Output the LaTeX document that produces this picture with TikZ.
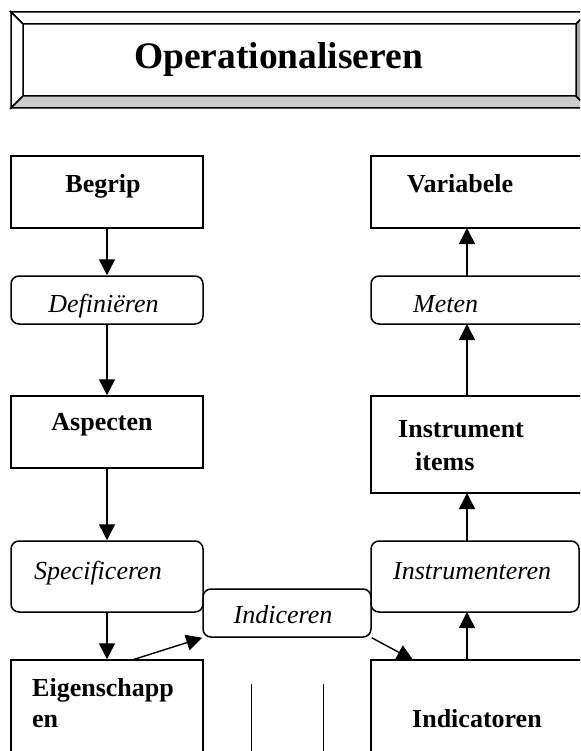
\documentclass[tikz,border=0pt]{standalone}
\usepackage{fontspec}
\setmainfont{Liberation Serif}
\usetikzlibrary{arrows.meta}
\begin{document}
\begin{tikzpicture}[x=1pt,y=-1pt,
  box/.style={draw,line width=1.5pt,inner sep=0pt,minimum width=192pt,minimum height=72pt},
  proc/.style={draw,line width=1.5pt,inner sep=0pt,rounded corners=8pt},
  lbl/.style={font=\fontsize{26}{30}\selectfont\bfseries,inner sep=0pt},
  plbl/.style={font=\fontsize{26}{30}\selectfont\itshape,inner sep=0pt},
  arr/.style={line width=1.4pt,-{Triangle[length=16pt,width=16pt]}},
  thin line/.style={line width=1pt},
  bevel/.style={draw,line width=1.5pt,line join=miter},
]
\useasboundingbox (0,0) rectangle (580,751);
\clip (0,0) rectangle (580,751);

% title frame
\fill[white] (0,0) rectangle (580,751);
\path[bevel,fill=white] (11,12) -- (588,12) -- (576,24) -- (23,24) -- cycle;
\path[bevel,fill=white] (11,12) -- (23,24) -- (23,96) -- (11,108) -- cycle;
\path[bevel,fill={rgb,255:red,204;green,204;blue,204}] (11,108) -- (23,96) -- (576,96) -- (588,108) -- cycle;
\path[bevel,fill={rgb,255:red,166;green,166;blue,166}] (576,24) -- (588,12) -- (588,108) -- (576,96) -- cycle;
\node[inner sep=0pt,anchor=base,font=\fontsize{37.5}{44}\selectfont\bfseries] (title) at (278.5,69) {Operationaliseren};

% left column
\node[box] (begrip) at (107,192) {};
\node[proc,minimum width=192pt,minimum height=48pt] (def) at (107,300) {};
\node[box] (asp) at (107,432) {};
\node[proc,minimum width=192pt,minimum height=71pt] (spec) at (107,576.5) {};
\node[box,minimum height=120pt] (eig) at (107,720) {};

% middle
\node[proc,minimum width=168pt,minimum height=48pt] (ind) at (287,613) {};

% right column
\node[box,minimum width=219pt] (var) at (480.5,192) {};
\node[proc,minimum width=219pt,minimum height=48pt] (meten) at (480.5,300) {};
\node[box,minimum width=219pt,minimum height=97pt] (items) at (480.5,444.5) {};
\node[proc,minimum width=208pt,minimum height=71pt] (instr) at (475,576.5) {};
\node[box,minimum width=219pt,minimum height=120pt] (indic) at (480.5,720) {};

% labels
\node[lbl,anchor=base] (tbegrip) at (103,193) {Begrip};
\node[plbl,anchor=base] (tdef) at (103.5,312) {Definiëren};
\node[lbl,anchor=base] (tasp) at (102,430) {Aspecten};
\node[plbl,anchor=base west] (tspec) at (34,579) {Specificeren};
\node[lbl,anchor=base west] (teig1) at (32,696) {Eigenschapp};
\node[lbl,anchor=base west] (teig2) at (32,727) {en};
\node[plbl,anchor=base] (tind) at (283,623) {Indiceren};
\node[lbl,anchor=base west] (tvar) at (407,193) {Variabele};
\node[plbl,anchor=base west] (tmeten) at (413,312) {Meten};
\node[lbl,anchor=base west] (titems1) at (398,437) {Instrument};
\node[lbl,anchor=base west] (titems2) at (415,470) {items};
\node[plbl,anchor=base west] (tinstr) at (393,579) {Instrumenteren};
\node[lbl,anchor=base west] (tindic) at (412,727) {Indicatoren};

% connectors
\coordinate (e1) at (132,660);
\coordinate (i2) at (413,660);
\coordinate (indtop) at (467,660);
\coordinate (instrtop) at (467,541);
\coordinate (instrbot) at (467,612);
\coordinate (itemstop) at (467,396);
\coordinate (itemsbot) at (467,493);
\coordinate (metentop) at (467,276);
\coordinate (metenbot) at (467,324);
\coordinate (varbot) at (467,228);

\draw[arr] (begrip.south) -- (def.north);
\draw[arr] (def.south) -- (asp.north);
\draw[arr] (asp.south) -- (spec.north);
\draw[arr] (spec.south) -- (eig.north);
\draw[arr] (e1) -- (ind.south west);
\draw[arr] (ind.south east) -- (i2);
\draw[arr] (indtop) -- (instrbot);
\draw[arr] (instrtop) -- (itemsbot);
\draw[arr] (itemstop) -- (metenbot);
\draw[arr] (metentop) -- (varbot);

% vertical lines
\coordinate (v1a) at (251,684);
\coordinate (v1b) at (251,760);
\coordinate (v2a) at (323,684);
\coordinate (v2b) at (323,760);
\draw[thin line] (v1a) -- (v1b);
\draw[thin line] (v2a) -- (v2b);
\end{tikzpicture}
\end{document}
